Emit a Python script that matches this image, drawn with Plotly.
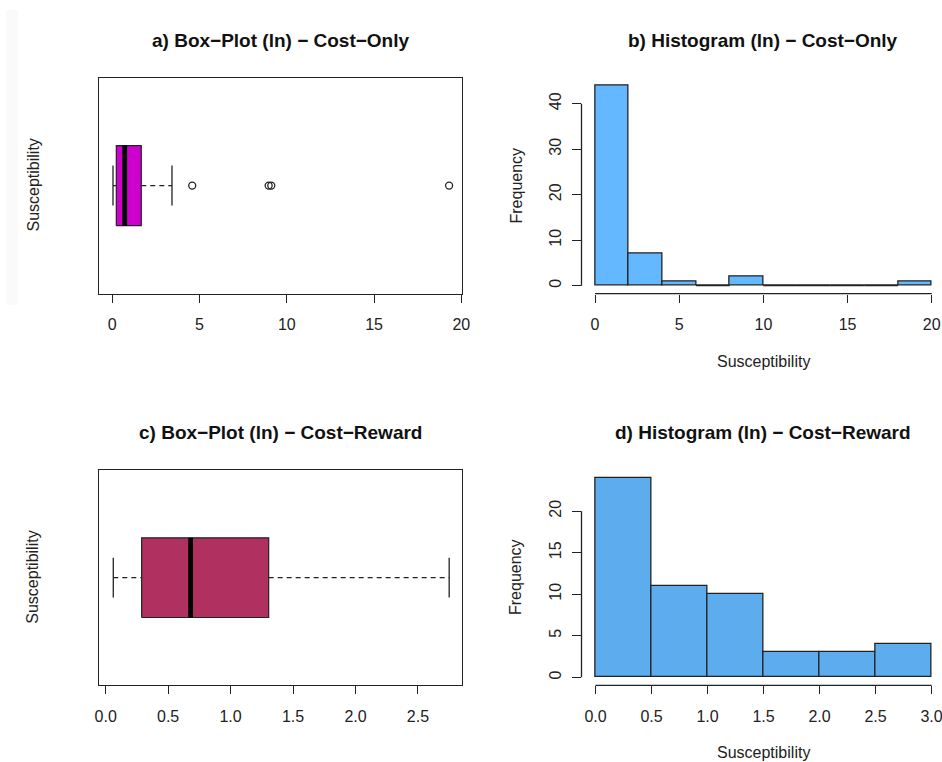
import plotly.graph_objects as go

W, H = 942, 762

# ---------------- data ----------------
# a) Box-plot (ln) - Cost-Only : five-number summary + outliers
a_whisker_low = 0.04
a_q1 = 0.23
a_median = 0.71
a_q3 = 1.66
a_whisker_high = 3.42
a_outliers = [4.58, 8.96, 9.11, 19.3]

# b) Histogram (ln) - Cost-Only
b_edges = [0, 2, 4, 6, 8, 10, 12, 14, 16, 18, 20]
b_counts = [44, 7, 1, 0, 2, 0, 0, 0, 0, 1]

# c) Box-plot (ln) - Cost-Reward
c_whisker_low = 0.061
c_q1 = 0.288
c_median = 0.68
c_q3 = 1.305
c_whisker_high = 2.75
c_outliers = []

# d) Histogram (ln) - Cost-Reward
d_edges = [0.0, 0.5, 1.0, 1.5, 2.0, 2.5, 3.0]
d_counts = [24, 11, 10, 3, 3, 4]

titles = ["a) Box\u2212Plot (ln) \u2212 Cost\u2212Only",
          "b) Histogram (ln) \u2212 Cost\u2212Only",
          "c) Box\u2212Plot (ln) \u2212 Cost\u2212Reward",
          "d) Histogram (ln) \u2212 Cost\u2212Reward"]

a_ticks = [0, 5, 10, 15, 20]
b_xticks = [0, 5, 10, 15, 20]
b_yticks = [0, 10, 20, 30, 40]
c_ticks = [0.0, 0.5, 1.0, 1.5, 2.0, 2.5]
d_xticks = [0.0, 0.5, 1.0, 1.5, 2.0, 2.5, 3.0]
d_yticks = [0, 5, 10, 15, 20]

# ---------------- styling ----------------
INK = "#222222"
FONT = "Liberation Sans, Arial, Helvetica, sans-serif"
col_a = "#CD00CD"   # magenta3
col_b = "#63B8FF"   # steelblue1
col_c = "#B03060"   # maroon
col_d = "#5CACEE"   # steelblue2


def px(x):
    return x / W


def py(y):
    return 1 - y / H


fig = go.Figure()


def add_box(xa, ya, lo, q1, med, q3, hi, outl, color):
    pos, half, cap = 1.0, 0.2, 0.1
    kw = dict(xaxis=xa, yaxis=ya, showlegend=False, hoverinfo="skip")
    fig.add_trace(go.Scatter(x=[q1, q3, q3, q1, q1],
                             y=[pos - half, pos - half, pos + half, pos + half, pos - half],
                             mode="lines", fill="toself", fillcolor=color,
                             line=dict(color=INK, width=1.2), **kw))
    fig.add_trace(go.Scatter(x=[lo, q1], y=[pos, pos], mode="lines",
                             line=dict(color=INK, width=1.3, dash="5px,4px"), **kw))
    fig.add_trace(go.Scatter(x=[q3, hi], y=[pos, pos], mode="lines",
                             line=dict(color=INK, width=1.3, dash="5px,4px"), **kw))
    for v in (lo, hi):
        fig.add_trace(go.Scatter(x=[v, v], y=[pos - cap, pos + cap], mode="lines",
                                 line=dict(color=INK, width=1.3), **kw))
    fig.add_trace(go.Scatter(x=[med, med], y=[pos - half, pos + half], mode="lines",
                             line=dict(color="#000000", width=4.8), **kw))
    if outl:
        fig.add_trace(go.Scatter(x=outl, y=[pos] * len(outl), mode="markers",
                                 marker=dict(symbol="circle-open", size=7,
                                             line=dict(color=INK, width=1.3), color=INK),
                                 **kw))


def add_hist(xa, ya, edges, counts, color):
    centers = [(edges[i] + edges[i + 1]) / 2 for i in range(len(counts))]
    widths = [edges[i + 1] - edges[i] for i in range(len(counts))]
    fig.add_trace(go.Bar(x=centers, y=counts, width=widths, marker=dict(color=color,
                         line=dict(color=INK, width=1.3)),
                         xaxis=xa, yaxis=ya, showlegend=False, hoverinfo="skip"))
    # zero-height bins are drawn as a flat line, like R does
    zx, zy = [], []
    for i, c in enumerate(counts):
        if c == 0:
            zx += [edges[i], edges[i + 1], None]
            zy += [0, 0, None]
    if zx:
        fig.add_trace(go.Scatter(x=zx, y=zy, mode="lines",
                                 line=dict(color=INK, width=1.3), xaxis=xa, yaxis=ya,
                                 showlegend=False, hoverinfo="skip"))


add_box("x", "y", a_whisker_low, a_q1, a_median, a_q3, a_whisker_high, a_outliers, col_a)
add_hist("x2", "y2", b_edges, b_counts, col_b)
add_box("x3", "y3", c_whisker_low, c_q1, c_median, c_q3, c_whisker_high, c_outliers, col_c)
add_hist("x4", "y4", d_edges, d_counts, col_d)

tickfont = dict(family=FONT, size=16, color=INK)

common_x = dict(ticks="outside", ticklen=8, tickwidth=1.3, tickcolor=INK,
                tickfont=tickfont, showgrid=False, zeroline=False,
                ticklabelstandoff=8, automargin=False, ticklabeloverflow="allow")
common_yh = dict(ticks="outside", ticklen=9, tickwidth=1.3, tickcolor=INK, tickangle=-90,
                 tickfont=tickfont, showgrid=False, zeroline=False, showline=False,
                 ticklabelstandoff=4, automargin=False, ticklabeloverflow="allow")
common_yb = dict(range=[0.46, 1.54], showticklabels=False, ticks="", showline=True,
                 mirror=True, linecolor=INK, linewidth=1.3, showgrid=False,
                 zeroline=False, automargin=False)

# plot regions (pixels)
L_left, L_right = 99.3, 462.3
R_left, R_right = 581.5, 942
T_top, T_bot = 77.5, 293.7
B_top, B_bot = 470, 685.3

fig.update_layout(
    width=W, height=H, margin=dict(l=0, r=0, t=0, b=0, autoexpand=False),
    paper_bgcolor="white", plot_bgcolor="white", bargap=0,
    font=dict(family=FONT, color=INK),
    xaxis=dict(domain=[px(L_left), px(L_right)], range=[-0.745, 20.057],
               tickvals=a_ticks, showline=True, mirror=True, linecolor=INK,
               linewidth=1.3, anchor="y", **common_x),
    yaxis=dict(domain=[py(T_bot), py(T_top)], anchor="x", **common_yb),
    xaxis2=dict(domain=[px(R_left), px(R_right)], range=[-0.802, 20.61],
                tickvals=b_xticks, showline=False, anchor="y2", **common_x),
    yaxis2=dict(domain=[py(T_bot), py(T_top)], range=[-1.76, 45.76], tickvals=b_yticks,
                anchor="x2", **common_yh),
    xaxis3=dict(domain=[px(L_left), px(L_right)], range=[-0.051, 2.855],
                tickvals=c_ticks, tickformat=".1f", showline=True, mirror=True,
                linecolor=INK, linewidth=1.3, anchor="y3", **common_x),
    yaxis3=dict(domain=[py(B_bot), py(B_top)], anchor="x3", **common_yb),
    xaxis4=dict(domain=[px(R_left), px(R_right)], range=[-0.125, 3.093],
                tickvals=d_xticks, tickformat=".1f", showline=False, anchor="y4",
                **common_x),
    yaxis4=dict(domain=[py(B_bot), py(B_top)], range=[-0.96, 24.96], tickvals=d_yticks,
                anchor="x4", **common_yh),
)

shapes = [
    # faint shadow strip at left edge of the reference image
    dict(type="rect", xref="paper", yref="paper", x0=px(6), x1=px(18), y0=py(305),
         y1=py(10), fillcolor="rgba(0,0,0,0.018)", line=dict(width=0), layer="below"),
]
# R-style axis lines spanning only the tick range for histograms
for xa, ya, xt, yt in (("x2", "y2", b_xticks, b_yticks), ("x4", "y4", d_xticks, d_yticks)):
    shapes.append(dict(type="line", xref=xa, yref=ya + " domain", x0=xt[0], x1=xt[-1],
                       y0=0, y1=0, line=dict(color=INK, width=1.3)))
    shapes.append(dict(type="line", xref=xa + " domain", yref=ya, x0=0, x1=0,
                       y0=yt[0], y1=yt[-1], line=dict(color=INK, width=1.3)))
fig.update_layout(shapes=shapes)

ann = []
title_font = dict(family=FONT, size=19, color="#111111")
lab_font = dict(family=FONT, size=16, color=INK)
for text, cx, cy in ((titles[0], 280, 40),
                     (titles[1], 763, 40),
                     (titles[2], 280, 432),
                     (titles[3], 763, 432)):
    ann.append(dict(text="<b>%s</b>" % text, x=px(cx), y=py(cy), xref="paper",
                    yref="paper", showarrow=False, font=title_font,
                    xanchor="center", yanchor="middle"))
for text, cx, cy, ang in (("Susceptibility", 33, 185.5, -90),
                          ("Susceptibility", 33, 577.7, -90),
                          ("Frequency", 515.5, 186, -90),
                          ("Frequency", 515.5, 577.5, -90),
                          ("Susceptibility", 763, 361, 0),
                          ("Susceptibility", 763, 752, 0)):
    ann.append(dict(text=text, x=px(cx), y=py(cy), xref="paper", yref="paper",
                    showarrow=False, font=lab_font, textangle=ang,
                    xanchor="center", yanchor="middle"))
fig.update_layout(annotations=ann)

fig.write_html("out.html")
